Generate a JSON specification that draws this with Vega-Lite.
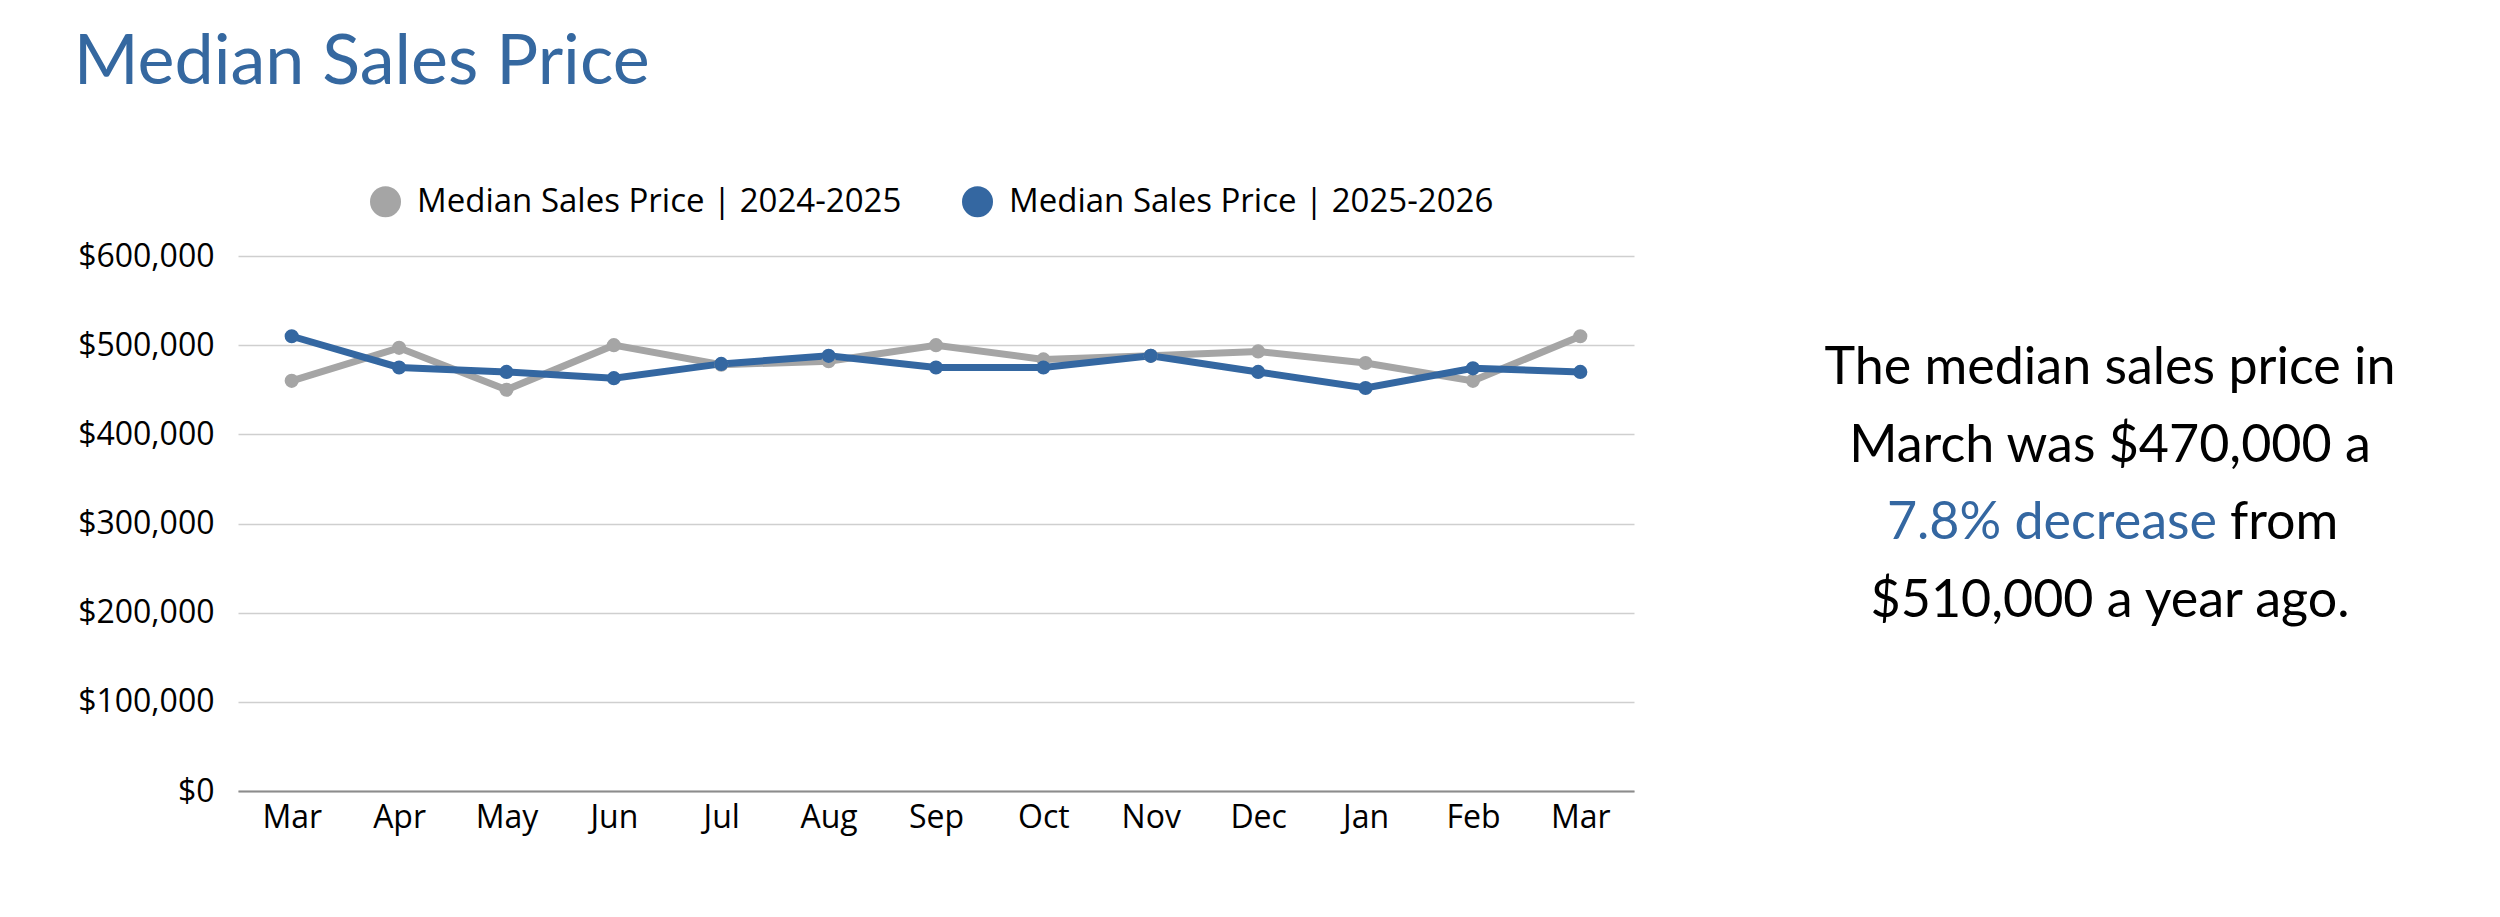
{
  "$schema": "https://vega.github.io/schema/vega-lite/v6.json",
  "background": "white",
  "padding": {"left": 73, "top": 28, "right": 0, "bottom": 30},
  "bounds": "flush",
  "spacing": 90,
  "title": {"text": "Median Sales Price", "anchor": "start", "frame": "bounds", "font": "Lato", "fontSize": 70, "fontWeight": "normal", "color": "#3568A0", "offset": 86, "dx": -4},
  "config": {
    "view": {"stroke": null},
    "axis": {"labelFont": "Open Sans", "labelFontSize": 32, "labelColor": "#000000", "title": null}
  },
  "resolve": {"scale": {"color": "independent", "x": "independent", "y": "independent"}, "legend": {"color": "independent"}},
  "hconcat": [
    {
      "width": 1396,
      "height": 535,
      "data": {"values": [
        {"month": "Mar 25", "series": "Median Sales Price | 2024-2025", "price": 460000},
        {"month": "Apr 25", "series": "Median Sales Price | 2024-2025", "price": 497000},
        {"month": "May 25", "series": "Median Sales Price | 2024-2025", "price": 450000},
        {"month": "Jun 25", "series": "Median Sales Price | 2024-2025", "price": 500000},
        {"month": "Jul 25", "series": "Median Sales Price | 2024-2025", "price": 478000},
        {"month": "Aug 25", "series": "Median Sales Price | 2024-2025", "price": 482000},
        {"month": "Sep 25", "series": "Median Sales Price | 2024-2025", "price": 500000},
        {"month": "Oct 25", "series": "Median Sales Price | 2024-2025", "price": 484000},
        {"month": "Nov 25", "series": "Median Sales Price | 2024-2025", "price": 488000},
        {"month": "Dec 25", "series": "Median Sales Price | 2024-2025", "price": 493000},
        {"month": "Jan 26", "series": "Median Sales Price | 2024-2025", "price": 480000},
        {"month": "Feb 26", "series": "Median Sales Price | 2024-2025", "price": 460000},
        {"month": "Mar 26", "series": "Median Sales Price | 2024-2025", "price": 510000},
        {"month": "Mar 25", "series": "Median Sales Price | 2025-2026", "price": 510000},
        {"month": "Apr 25", "series": "Median Sales Price | 2025-2026", "price": 475000},
        {"month": "May 25", "series": "Median Sales Price | 2025-2026", "price": 470000},
        {"month": "Jun 25", "series": "Median Sales Price | 2025-2026", "price": 463000},
        {"month": "Jul 25", "series": "Median Sales Price | 2025-2026", "price": 479000},
        {"month": "Aug 25", "series": "Median Sales Price | 2025-2026", "price": 488000},
        {"month": "Sep 25", "series": "Median Sales Price | 2025-2026", "price": 475000},
        {"month": "Oct 25", "series": "Median Sales Price | 2025-2026", "price": 475000},
        {"month": "Nov 25", "series": "Median Sales Price | 2025-2026", "price": 488000},
        {"month": "Dec 25", "series": "Median Sales Price | 2025-2026", "price": 470000},
        {"month": "Jan 26", "series": "Median Sales Price | 2025-2026", "price": 452000},
        {"month": "Feb 26", "series": "Median Sales Price | 2025-2026", "price": 474000},
        {"month": "Mar 26", "series": "Median Sales Price | 2025-2026", "price": 470000}
      ]},
      "encoding": {
        "x": {"field": "month", "type": "ordinal", "sort": null, "scale": {"type": "point", "padding": 0.5},
              "axis": {"labelExpr": "split(datum.label, ' ')[0]", "labelAngle": 0, "ticks": false, "grid": false, "domain": true, "domainColor": "#8c8c8c", "domainWidth": 2, "labelPadding": 11}},
        "y": {"field": "price", "type": "quantitative", "scale": {"domain": [0, 600000]},
              "axis": {"values": [0, 100000, 200000, 300000, 400000, 500000, 600000], "format": "$,.0f", "domain": false, "ticks": false, "grid": true, "gridColor": "#cfcfcf", "gridWidth": 1.7, "labelPadding": 24}},
        "color": {"field": "series", "type": "nominal",
                  "scale": {"domain": ["Median Sales Price | 2024-2025", "Median Sales Price | 2025-2026"], "range": ["#A5A5A5", "#3467A1"]},
                  "legend": {"orient": "none", "legendX": 131, "legendY": -71, "direction": "horizontal", "title": null, "symbolType": "circle", "symbolSize": 961, "symbolStrokeWidth": 0, "symbolOpacity": 1, "labelFont": "Open Sans", "labelFontSize": 33, "labelColor": "#000000", "labelLimit": 0, "columnPadding": 59, "labelOffset": 15}}
      },
      "layer": [
        {"mark": {"type": "line", "strokeWidth": 7}},
        {"mark": {"type": "point", "filled": true, "size": 200, "opacity": 1}}
      ]
    },
    {
      "width": 772,
      "height": 457,
      "data": {"values": [
        {"line": 1, "text": "The median sales price in", "tone": "plain", "seg": "whole"},
        {"line": 2, "text": "March was $470,000 a", "tone": "plain", "seg": "whole"},
        {"line": 3, "text": "7.8% decrease", "tone": "accent", "seg": "head"},
        {"line": 3, "text": "from", "tone": "plain", "seg": "tail"},
        {"line": 4, "text": "$510,000 a year ago.", "tone": "plain", "seg": "whole"}
      ]},
      "encoding": {
        "y": {"field": "line", "type": "quantitative", "scale": {"domain": [1, 4], "range": [112, 345], "zero": false}, "axis": null},
        "text": {"field": "text", "type": "nominal"},
        "color": {"field": "tone", "type": "nominal", "scale": {"domain": ["plain", "accent"], "range": ["#000000", "#3467A1"]}, "legend": null}
      },
      "layer": [
        {"transform": [{"filter": "datum.seg === 'whole'"}],
         "mark": {"type": "text", "align": "center", "baseline": "middle", "font": "Lato", "fontSize": 52}},
        {"transform": [{"filter": "datum.seg === 'head'"}],
         "mark": {"type": "text", "align": "right", "baseline": "middle", "font": "Lato", "fontSize": 52},
         "encoding": {"x": {"field": "seg", "type": "nominal", "scale": {"type": "point", "domain": ["head", "tail"], "range": [493, 506], "padding": 0}, "axis": null}}},
        {"transform": [{"filter": "datum.seg === 'tail'"}],
         "mark": {"type": "text", "align": "left", "baseline": "middle", "font": "Lato", "fontSize": 52},
         "encoding": {"x": {"field": "seg", "type": "nominal", "scale": {"type": "point", "domain": ["head", "tail"], "range": [493, 506], "padding": 0}, "axis": null}}}
      ]
    }
  ]
}
